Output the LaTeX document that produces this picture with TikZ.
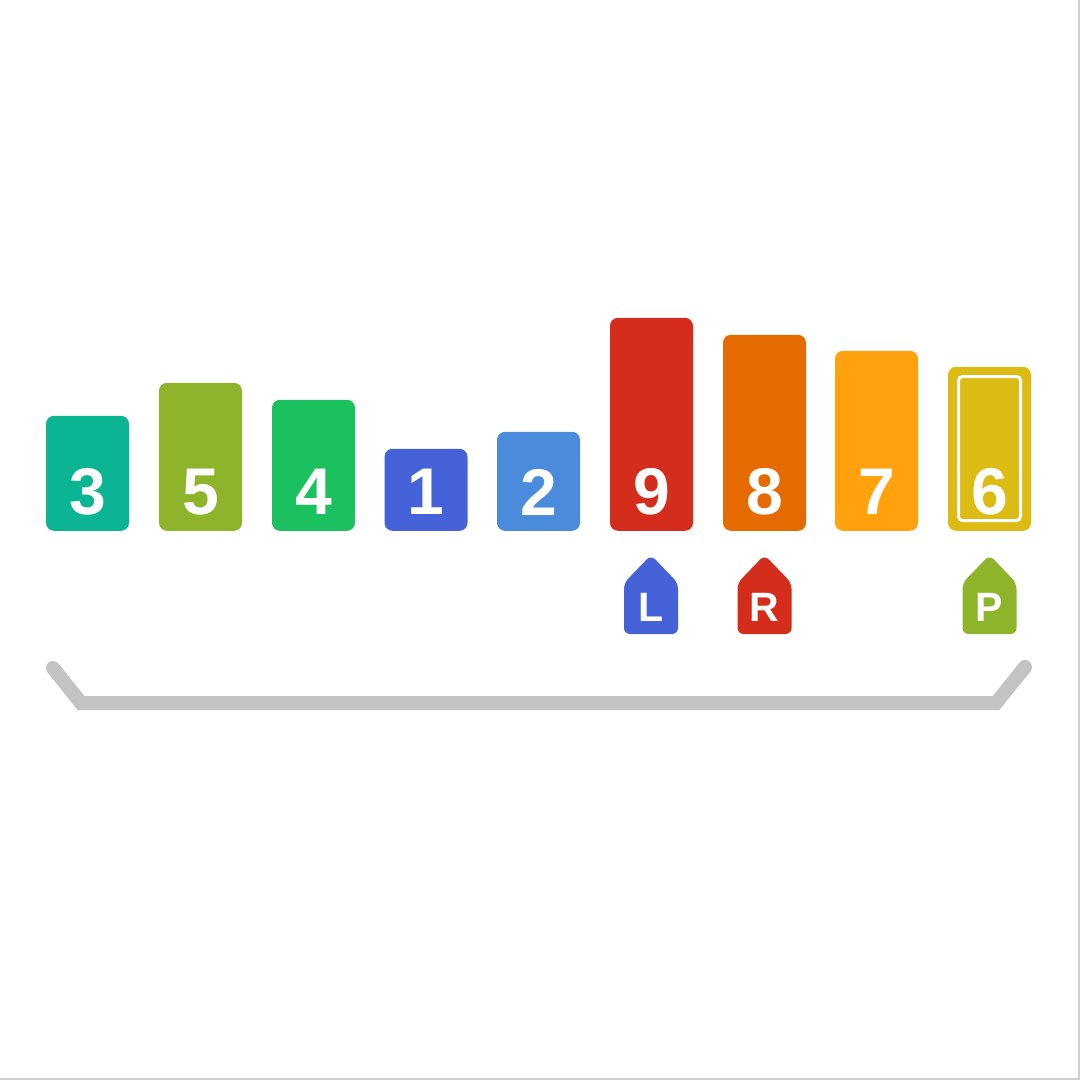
\documentclass[tikz,border=0pt]{standalone}
\usepackage{fontspec}
\setmainfont{Liberation Sans}
\begin{document}
\begin{tikzpicture}[x=1pt,y=-1pt,
  bar/.style={draw=none, rounded corners=8pt, minimum width=83pt, inner sep=0pt, anchor=south},
  num/.style={text=white, font=\fontsize{66}{66}\selectfont\bfseries, inner sep=0pt},
  tagtxt/.style={text=white, font=\fontsize{41}{41}\selectfont\bfseries, inner sep=0pt},
  brack/.style={draw=bgray, line width=14pt, line cap=round, line join=miter}]
\definecolor{cteal}{HTML}{0BB594}
\definecolor{colive}{HTML}{8DB42A}
\definecolor{cgreen}{HTML}{1BC15E}
\definecolor{cblue}{HTML}{4562D9}
\definecolor{clblue}{HTML}{4A8BDB}
\definecolor{cred}{HTML}{D52D1C}
\definecolor{corange}{HTML}{E56B00}
\definecolor{camber}{HTML}{FFA20D}
\definecolor{cyellow}{HTML}{DCBC14}
\definecolor{bgray}{HTML}{C3C3C3}
\definecolor{edge}{HTML}{CFCFCF}
\useasboundingbox (0,0) rectangle (1080,1080);
\fill[white] (0,0) rectangle (1080,1080);
\draw[edge, line width=2pt] (1079,0) -- (1079,1079) -- (0,1079);
% bars
\node[bar, fill=cteal,   minimum height=115pt] (b3) at (87.5,531) {};
\node[bar, fill=colive,  minimum height=148pt] (b5) at (200.5,531) {};
\node[bar, fill=cgreen,  minimum height=131pt] (b4) at (313.5,531) {};
\node[bar, fill=cblue,   minimum height=82pt]  (b1) at (426,531) {};
\node[bar, fill=clblue,  minimum height=99pt]  (b2) at (538.5,531) {};
\node[bar, fill=cred,    minimum height=213pt] (b9) at (651.5,531) {};
\node[bar, fill=corange, minimum height=196pt] (b8) at (764.5,531) {};
\node[bar, fill=camber,  minimum height=180pt] (b7) at (876.5,531) {};
\node[bar, fill=cyellow, minimum height=164pt] (b6) at (989.5,531) {};
\draw[white, line width=3pt, rounded corners=4pt] (958.5,376.5) rectangle (1020.5,520.5);
% numbers
\node[num] (n3) at (87.5,492) {3};
\node[num] (n5) at (200.5,492) {5};
\node[num] (n4) at (313.5,492) {4};
\node[num] (n1) at (426,492) {1};
\node[num] (n2) at (538.5,492) {2};
\node[num] (n9) at (651.5,492) {9};
\node[num] (n8) at (764.5,492) {8};
\node[num] (n7) at (876.5,492) {7};
\node[num] (n6) at (989.5,492) {6};
% tags
\fill[cblue, rounded corners=6pt] (624,634) -- (624,583) -- (651,555) -- (678,583) -- (678,634) -- cycle;
\node[tagtxt] (tl) at (651,607) {L};
\fill[cred, rounded corners=6pt] (737.5,634) -- (737.5,583) -- (764.5,555) -- (791.5,583) -- (791.5,634) -- cycle;
\node[tagtxt] (tr) at (764.5,607) {R};
\fill[colive, rounded corners=6pt] (962.5,634) -- (962.5,583) -- (989.5,555) -- (1016.5,583) -- (1016.5,634) -- cycle;
\node[tagtxt] (tp) at (989.5,607) {P};
% bracket
\coordinate (bl) at (53,668);
\coordinate (bcl) at (81,703);
\coordinate (bcr) at (996,703);
\coordinate (br) at (1025,667);
\draw[brack] (bl) -- (bcl) -- (bcr) -- (br);
\end{tikzpicture}
\end{document}
